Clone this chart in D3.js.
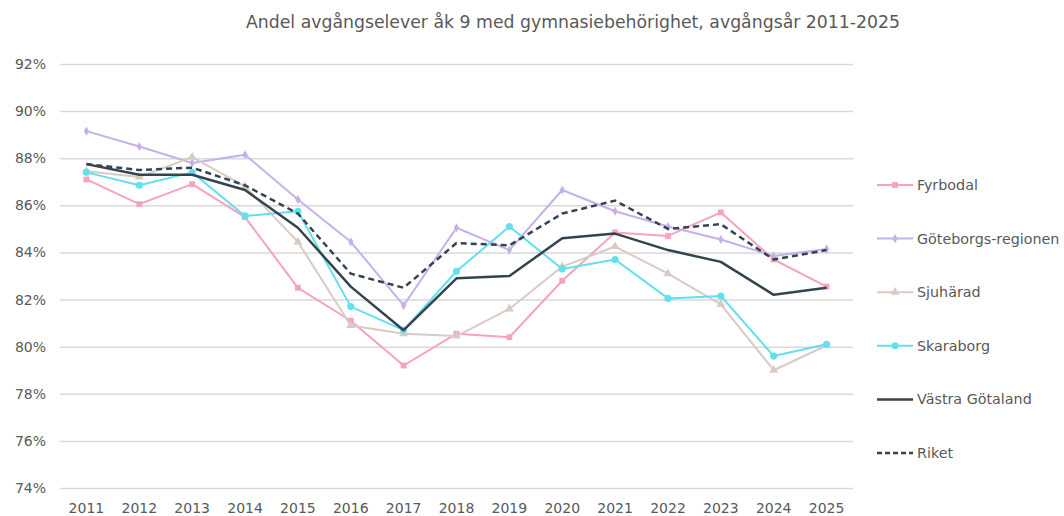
<!DOCTYPE html>
<html>
<head>
<meta charset="utf-8">
<script src="https://cdn.jsdelivr.net/npm/d3@7"></script>
<style>
  body { margin: 0; background: #fff; }
  svg { display: block; font-family: "DejaVu Sans", Verdana, sans-serif; }
</style>
</head>
<body>
<div id="chart"></div>
<script>
// Andel avgångselever åk 9 med gymnasiebehörighet, 2011-2025

const years = ['2011', '2012', '2013', '2014', '2015', '2016', '2017', '2018',
    '2019', '2020', '2021', '2022', '2023', '2024', '2025'];
const yTicks = [74, 76, 78, 80, 82, 84, 86, 88, 90, 92];

const fyrbodal = [87.1, 86.05, 86.9, 85.5, 82.5, 81.1, 79.2, 80.55, 80.4, 82.8, 84.85, 84.7, 85.7, 83.7, 82.55];
const goteborg = [89.15, 88.5, 87.8, 88.15, 86.25, 84.45, 81.75, 85.05, 84.1, 86.65, 85.75, 85.1, 84.55, 83.85, 84.15];
const sjuharad = [87.45, 87.2, 88.05, 86.8, 84.45, 80.9, 80.55, 80.45, 81.6, 83.4, 84.25, 83.1, 81.8, 79.0, 80.05];
const skaraborg = [87.4, 86.85, 87.4, 85.55, 85.75, 81.7, 80.7, 83.2, 85.1, 83.3, 83.7, 82.05, 82.15, 79.6, 80.1];
const vastraGotaland = [87.75, 87.3, 87.3, 86.65, 85.05, 82.55, 80.7, 82.9, 83.0, 84.6, 84.8, 84.1, 83.6, 82.2, 82.5];
const riket = [87.75, 87.5, 87.6, 86.85, 85.65, 83.1, 82.5, 84.4, 84.3, 85.65, 86.2, 85.0, 85.2, 83.7, 84.1];

const series = [
    { name: 'Fyrbodal', values: fyrbodal, color: '#f5a3bf', marker: 'square', width: 2 },
    { name: 'Göteborgs-regionen', values: goteborg, color: '#c6b0ea', marker: 'diamond', width: 2 },
    { name: 'Sjuhärad', values: sjuharad, color: '#d9cac4', marker: 'triangle', width: 2 },
    { name: 'Skaraborg', values: skaraborg, color: '#62e0ee', marker: 'circle', width: 2 },
    { name: 'Västra Götaland', values: vastraGotaland, color: '#34444e', marker: null, width: 2.5 },
    { name: 'Riket', values: riket, color: '#34444e', marker: null, width: 2.5, dash: '6,4' }
];

const W = 1064, H = 516;
const margin = { left: 60, right: 211, top: 64, bottom: 28 };
const FONT = '"DejaVu Sans", Verdana, sans-serif';

const svg = d3.select('#chart').append('svg')
    .attr('width', W)
    .attr('height', H);

const x = d3.scaleBand()
    .domain(years)
    .range([margin.left, W - margin.right]);

const y = d3.scaleLinear()
    .domain([74, 92])
    .range([H - margin.bottom, margin.top]);

const cx = d => x(d) + x.bandwidth() / 2;

// title
svg.append('text')
    .attr('x', 573)
    .attr('y', 28)
    .attr('text-anchor', 'middle')
    .attr('font-size', 17.3)
    .attr('fill', '#595959')
    .text('Andel avgångselever åk 9 med gymnasiebehörighet, avgångsår 2011-2025');

// grid + y axis
const yAxis = svg.append('g')
    .attr('transform', `translate(${margin.left},0)`)
    .call(d3.axisLeft(y)
        .tickValues(yTicks)
        .tickSize(-(W - margin.left - margin.right))
        .tickPadding(14)
        .tickFormat(d => d + '%'));
yAxis.select('.domain').remove();
yAxis.selectAll('.tick line').attr('stroke', '#d9d9d9').attr('stroke-width', 1.5);
yAxis.selectAll('.tick text')
    .attr('font-size', 14)
    .attr('fill', '#595959')
    .attr('font-family', FONT);

// x axis
const xAxis = svg.append('g')
    .attr('transform', `translate(0,${H - margin.bottom})`)
    .call(d3.axisBottom(x).tickSize(0).tickPadding(15));
xAxis.select('.domain').remove();
xAxis.selectAll('.tick text')
    .attr('font-size', 14)
    .attr('fill', '#595959')
    .attr('font-family', FONT);

const symbolType = {
    square: d3.symbolSquare,
    diamond: d3.symbolDiamond,
    triangle: d3.symbolTriangle,
    circle: d3.symbolCircle
};
const symbolSize = { square: 34, diamond: 24, triangle: 34, circle: 40 };

const line = d3.line()
    .x((d, i) => cx(years[i]))
    .y(d => y(d));

const lines = svg.append('g');
series.forEach(s => {
    const g = lines.append('g');
    g.append('path')
        .datum(s.values)
        .attr('fill', 'none')
        .attr('stroke', s.color)
        .attr('stroke-width', s.width)
        .attr('stroke-linejoin', 'round')
        .attr('stroke-dasharray', s.dash || null)
        .attr('d', line);
    if (s.marker) {
        g.selectAll('path.pt')
            .data(s.values)
            .join('path')
            .attr('class', 'pt')
            .attr('transform', (d, i) => `translate(${cx(years[i])},${y(d)})`)
            .attr('d', d3.symbol().type(symbolType[s.marker]).size(symbolSize[s.marker]))
            .attr('fill', s.color);
    }
});

// legend
const legend = svg.append('g');
const legendY = d3.scalePoint()
    .domain(series.map(s => s.name))
    .range([185, 453]);
series.forEach(s => {
    const ly = legendY(s.name);
    legend.append('line')
        .attr('x1', 877).attr('x2', 913)
        .attr('y1', ly).attr('y2', ly)
        .attr('stroke', s.color)
        .attr('stroke-width', s.width)
        .attr('stroke-dasharray', s.dash ? '5,3' : null);
    if (s.marker) {
        legend.append('path')
            .attr('transform', `translate(895,${ly})`)
            .attr('d', d3.symbol().type(symbolType[s.marker]).size(symbolSize[s.marker]))
            .attr('fill', s.color);
    }
    legend.append('text')
        .attr('x', 917)
        .attr('y', ly)
        .attr('dy', '0.35em')
        .attr('font-size', 14.3)
        .attr('fill', '#595959')
        .text(s.name);
});
</script>
</body>
</html>
